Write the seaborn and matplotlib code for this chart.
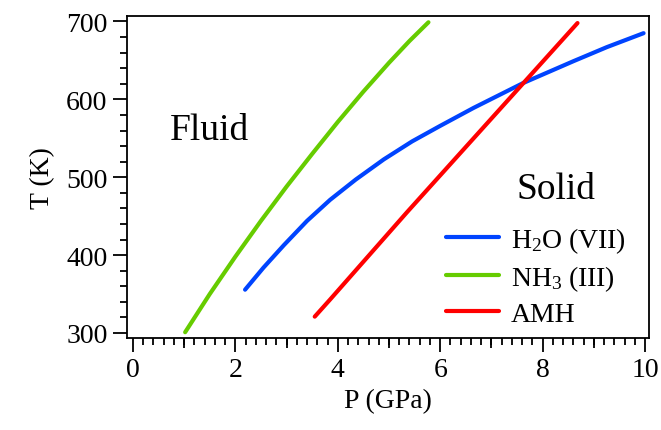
import matplotlib
matplotlib.use("Agg")
import matplotlib.pyplot as plt
import numpy as np
import pandas as pd
import seaborn as sns
from matplotlib.ticker import MultipleLocator, FixedLocator, NullFormatter

# melting curves, P in GPa, T in K
h2o_p = [2.19, 2.55, 2.95, 3.40, 3.85, 4.35, 4.90, 5.45, 6.00, 6.65, 7.62, 8.60, 9.25, 9.97]
h2o_t = [355.6, 384, 413, 444, 471, 497, 523, 546, 566, 589, 621, 649, 667, 685]
nh3_p = [1.02, 1.50, 2.00, 2.50, 3.00, 3.50, 4.00, 4.50, 5.00, 5.40, 5.77]
nh3_t = [301, 350, 398, 444, 488, 530, 571, 610, 647, 675, 699]
amh_p = [3.55, 3.85, 5.35, 8.68]
amh_t = [321, 343, 455, 698]

labels = ["H$_2$O (VII)", "NH$_3$ (III)", "AMH"]
colors = ["#0044ff", "#66cc00", "#ff0000"]

df = pd.concat([
    pd.DataFrame({"P": h2o_p, "T": h2o_t, "phase": labels[0]}),
    pd.DataFrame({"P": nh3_p, "T": nh3_t, "phase": labels[1]}),
    pd.DataFrame({"P": amh_p, "T": amh_t, "phase": labels[2]}),
], ignore_index=True)

sns.set_style("ticks")
plt.rcParams["font.family"] = ["Liberation Serif", "DejaVu Serif"]
plt.rcParams["mathtext.fontset"] = "custom"
plt.rcParams["mathtext.rm"] = "Liberation Serif"
plt.rcParams["mathtext.default"] = "regular"
plt.rcParams["text.color"] = "black"
plt.rcParams["axes.labelcolor"] = "black"

fig = plt.figure(figsize=(6.61, 4.31), dpi=100)
ax = fig.add_axes([0.192, 0.2135, 0.79, 0.7475])

sns.lineplot(data=df, x="P", y="T", hue="phase", palette=colors,
             sort=False, estimator=None, linewidth=3, ax=ax)

ax.set_xlim(-0.117, 10.078)
ax.set_ylim(293.6, 707.3)
ax.xaxis.set_major_locator(MultipleLocator(2))
ax.xaxis.set_minor_locator(MultipleLocator(0.2))
ax.yaxis.set_major_locator(MultipleLocator(100))
ax.yaxis.set_minor_locator(MultipleLocator(20))
ax.tick_params(which="major", direction="out", length=10, width=1.3,
               labelsize=20, color="black", labelcolor="black", pad=4)
ax.tick_params(which="minor", direction="out", length=5, width=1.3,
               color="black")

# medium ticks at odd pressures
sec = ax.secondary_xaxis("bottom")
sec.xaxis.set_major_locator(FixedLocator([1, 3, 5, 7, 9]))
sec.xaxis.set_major_formatter(NullFormatter())
sec.tick_params(direction="out", length=7.5, width=1.3, color="black")
sec.spines["bottom"].set_visible(False)

for s in ax.spines.values():
    s.set_linewidth(1.3)
    s.set_color("black")

ax.set_xlabel("P (GPa)", fontsize=20, labelpad=4)
ax.set_ylabel("T (K)", fontsize=20, labelpad=8)

ax.text(1.5, 561, "Fluid", fontsize=27, ha="center", va="center")
ax.text(8.26, 485, "Solid", fontsize=27, ha="center", va="center")

ax.legend(title=None, frameon=False, fontsize=20, loc="lower right",
          handlelength=1.9, handletextpad=0.45, labelspacing=0.3,
          borderaxespad=0.0, bbox_to_anchor=(0.977, 0.0))

fig.savefig("out.png", dpi=100)
